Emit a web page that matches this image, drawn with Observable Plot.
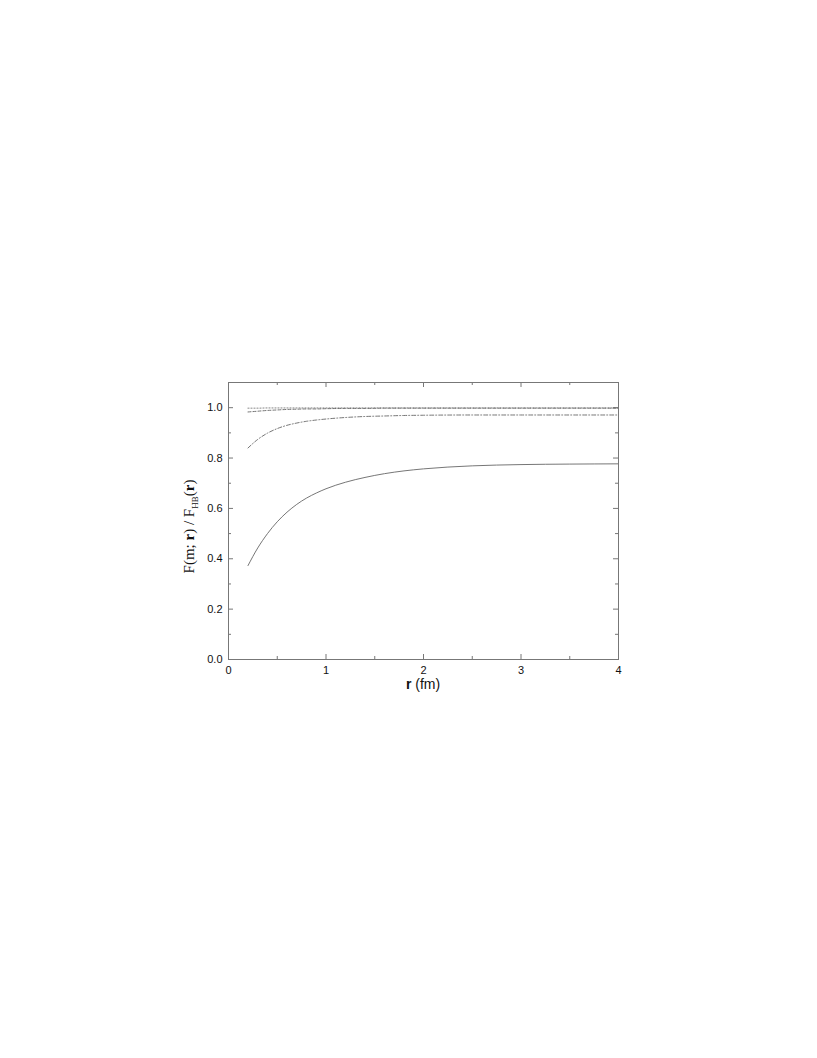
<!DOCTYPE html>
<html>
<head>
<meta charset="utf-8">
<script src="https://cdn.jsdelivr.net/npm/d3@7"></script>
<script src="https://cdn.jsdelivr.net/npm/@observablehq/plot@0.6"></script>
<style>
  html, body { margin: 0; padding: 0; background: #fff; }
  svg { display: block; }
</style>
</head>
<body>
<div id="chart"></div>
<script>
// ---- data ----
const rValues = [0.2, 0.3, 0.4, 0.5, 0.6, 0.7, 0.8, 0.9, 1.0, 1.2, 1.4, 1.6, 1.8, 2.0, 2.5, 3.0, 3.5, 4.0];
const solidSeries   = [0.373, 0.443, 0.500, 0.547, 0.585, 0.616, 0.641, 0.661, 0.678, 0.704, 0.723, 0.738, 0.749, 0.757, 0.769, 0.774, 0.776, 0.777];
const dashDotSeries = [0.840, 0.874, 0.899, 0.917, 0.930, 0.939, 0.946, 0.951, 0.955, 0.961, 0.965, 0.967, 0.969, 0.970, 0.971, 0.971, 0.971, 0.971];
const dashedSeries  = [0.983, 0.986, 0.989, 0.991, 0.993, 0.994, 0.995, 0.995, 0.996, 0.997, 0.997, 0.998, 0.998, 0.998, 0.998, 0.998, 0.998, 0.998];
const dottedSeries  = [0.998, 0.998, 0.999, 0.999, 0.999, 0.999, 0.999, 0.999, 0.999, 0.999, 0.999, 0.999, 0.999, 0.999, 0.999, 0.999, 0.999, 0.999];

const xMajorTicks = [0, 1, 2, 3, 4];
const xMinorTicks = [0.5, 1.5, 2.5, 3.5];
const yMajorTicks = [0.0, 0.2, 0.4, 0.6, 0.8, 1.0];
const yMinorTicks = [0.1, 0.3, 0.5, 0.7, 0.9];

const xDomain = [0, 4];
const yDomain = [0, 1.1];

// ---- layout ----
const W = 817, H = 1058;
const mL = 228, mR = 199, mT = 382, mB = 399;
const plotW = W - mL - mR, plotH = H - mT - mB;
const majorLen = 5, minorLen = 3;
const lineColor = "#666";
const frameColor = "#777";

const series = [
  {name: "solid", values: solidSeries, dash: null},
  {name: "dashdot", values: dashDotSeries, dash: "4,2,1,2"},
  {name: "dashed", values: dashedSeries, dash: "3,2"},
  {name: "dotted", values: dottedSeries, dash: "1,2"}
];

const tidy = series.flatMap(s => rValues.map((r, i) => ({r, v: s.values[i], name: s.name})));

const lineMarks = series.map(s =>
  Plot.line(tidy.filter(d => d.name === s.name), {
    x: "r", y: "v", stroke: lineColor, strokeWidth: 0.9,
    strokeDasharray: s.dash ?? undefined, curve: "monotone-x"
  })
);

const chart = Plot.plot({
  width: W, height: H,
  marginLeft: mL, marginRight: mR, marginTop: mT, marginBottom: mB,
  style: {fontFamily: "Liberation Sans, Arial, sans-serif", fontSize: "11px", color: "#111", background: "#fff"},
  x: {domain: xDomain},
  y: {domain: yDomain},
  marks: [
    // inward ticks on all sides
    Plot.tickX(xMajorTicks, {x: d => d, insetTop: plotH - majorLen, stroke: frameColor}),
    Plot.tickX(xMinorTicks, {x: d => d, insetTop: plotH - minorLen, stroke: frameColor}),
    Plot.tickX(xMajorTicks, {x: d => d, insetBottom: plotH - majorLen, stroke: frameColor}),
    Plot.tickX(xMinorTicks, {x: d => d, insetBottom: plotH - minorLen, stroke: frameColor}),
    Plot.tickY(yMajorTicks, {y: d => d, insetRight: plotW - majorLen, stroke: frameColor}),
    Plot.tickY(yMinorTicks, {y: d => d, insetRight: plotW - minorLen, stroke: frameColor}),
    Plot.tickY(yMajorTicks, {y: d => d, insetLeft: plotW - majorLen, stroke: frameColor}),
    Plot.tickY(yMinorTicks, {y: d => d, insetLeft: plotW - minorLen, stroke: frameColor}),
    Plot.axisX({ticks: xMajorTicks, tickSize: 0, tickPadding: 7, tickFormat: d3.format("d"), label: null, fontSize: 11}),
    Plot.axisY({ticks: yMajorTicks, tickSize: 0, tickPadding: 6, tickFormat: d3.format(".1f"), label: null, fontSize: 11}),
    ...lineMarks,
    Plot.frame({stroke: frameColor, strokeWidth: 1})
  ]
});

const svg = d3.select(chart);
const xs = chart.scale("x"), ys = chart.scale("y");

// x axis title: bold r (fm)
const xt = svg.append("text")
  .attr("x", xs.apply(2))
  .attr("y", ys.apply(0) + 30)
  .attr("text-anchor", "middle")
  .attr("font-family", "Liberation Sans, Arial, sans-serif")
  .attr("font-size", 14)
  .attr("fill", "#111");
xt.append("tspan").attr("font-weight", "bold").text("r");
xt.append("tspan").text(" (fm)");

// y axis title: F(m; r) / F_HB(r), serif
const yc = (ys.apply(0) + ys.apply(1.1)) / 2 + 6;
const yt = svg.append("text")
  .attr("transform", `translate(${mL - 34},${yc}) rotate(-90)`)
  .attr("text-anchor", "middle")
  .attr("font-family", "Liberation Serif, Times New Roman, serif")
  .attr("font-size", 15)
  .attr("fill", "#111");
yt.append("tspan").text("F(m; ");
yt.append("tspan").attr("font-weight", "bold").text("r");
yt.append("tspan").text(") / F");
yt.append("tspan").attr("font-size", 9).attr("dy", 4).text("HB");
yt.append("tspan").attr("dy", -4).text("(");
yt.append("tspan").attr("font-weight", "bold").text("r");
yt.append("tspan").text(")");

document.getElementById("chart").appendChild(chart);
</script>
</body>
</html>
